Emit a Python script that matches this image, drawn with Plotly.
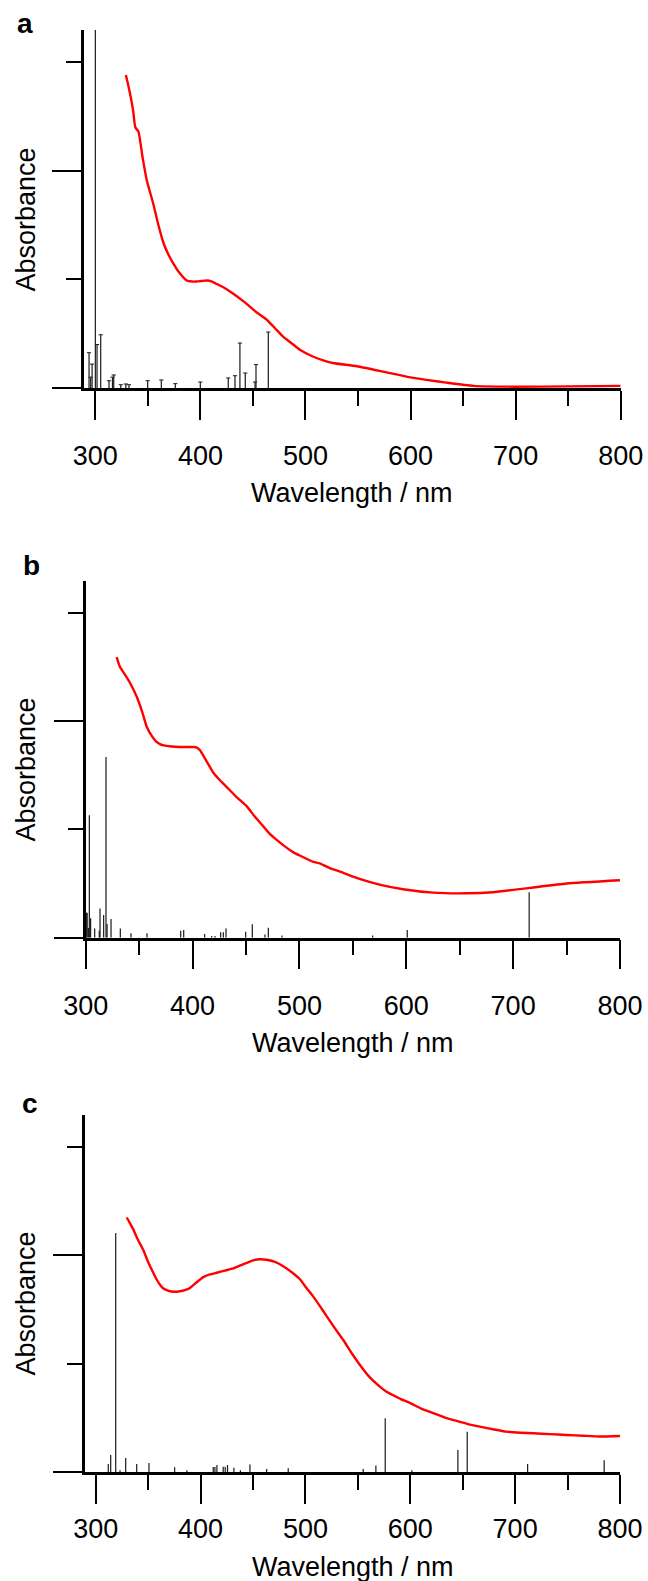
import plotly.graph_objects as go

# ---------------- data ----------------
# panel a
wl_a = [329, 331, 333, 336, 338, 341, 345, 349, 355, 360, 365, 370, 374, 380, 387, 392,
        396, 401, 406, 411, 415, 423, 431, 442, 453, 463, 471, 479, 487, 495, 507, 517,
        526, 549, 574, 596, 615, 634, 660, 698, 750, 800]
abs_a = [2.88, 2.80, 2.71, 2.55, 2.40, 2.36, 2.12, 1.91, 1.70, 1.50, 1.33, 1.22, 1.15,
         1.06, 0.99, 0.98, 0.98, 0.985, 0.99, 0.98, 0.96, 0.92, 0.87, 0.79, 0.70, 0.63,
         0.55, 0.47, 0.41, 0.35, 0.29, 0.255, 0.23, 0.20, 0.15, 0.105, 0.075, 0.05,
         0.02, 0.012, 0.015, 0.02]
stick_wl_a = [294, 295.6, 296.9, 300, 301.6, 305.1, 313, 316.3, 317.5, 324.2, 329, 332,
              349.8, 362.8, 376.1, 399.9, 426.5, 432.9, 437.6, 442.7, 452, 452.9, 464.6]
stick_f_a = [0.325, 0.10, 0.22, 5.0, 0.40, 0.49, 0.067, 0.10, 0.12, 0.03, 0.037, 0.03,
             0.067, 0.074, 0.04, 0.055, 0.092, 0.113, 0.414, 0.138, 0.055, 0.215, 0.515]

# panel b
wl_b = [329, 332, 336, 341, 348, 353, 357, 362, 366, 370, 373, 380, 388, 395, 401, 404,
        407, 413, 419, 425, 432, 441, 451, 458, 466, 472, 479, 486, 494, 500, 513, 519,
        529, 538, 557, 575, 597, 625, 656, 681, 716, 750, 800]
abs_b = [2.59, 2.50, 2.44, 2.36, 2.22, 2.08, 1.95, 1.86, 1.81, 1.785, 1.775, 1.765, 1.76,
         1.76, 1.76, 1.755, 1.73, 1.63, 1.53, 1.46, 1.39, 1.30, 1.21, 1.12, 1.03, 0.96,
         0.90, 0.845, 0.79, 0.76, 0.70, 0.687, 0.64, 0.61, 0.54, 0.49, 0.447, 0.416,
         0.41, 0.42, 0.46, 0.50, 0.53]
stick_wl_b = [300.6, 301.4, 302.5, 303.4, 304.6, 308.4, 312.7, 313.4, 316.8, 319, 320,
              323.7, 332.4, 342.4, 357.4, 388.9, 391.7, 411.3, 417.9, 421, 426.3, 428.8,
              431.3, 449.7, 455.9, 467.8, 470.9, 483.7, 568.5, 600.9, 715]
stick_f_b = [0.23, 0.23, 0.09, 1.13, 0.18, 0.086, 0.065, 0.27, 0.21, 1.668, 0.126, 0.172,
             0.086, 0.04, 0.04, 0.065, 0.07, 0.034, 0.015, 0.015, 0.05, 0.05, 0.086, 0.055,
             0.123, 0.03, 0.092, 0.02, 0.02, 0.07, 0.419]

# panel c
wl_c = [329.6, 332.5, 335.8, 340, 345.4, 350, 354.9, 358, 361.3, 364, 367.7, 374, 380.4,
        385, 389.9, 396, 402.6, 409, 415.4, 423, 431.2, 441, 450.2, 457, 463, 471, 478.8,
        487, 494.8, 501, 507.5, 514, 520.2, 528, 536.1, 544, 552, 561, 571, 577, 583.8,
        591, 599.6, 610, 621.9, 633, 644.2, 655, 666.4, 680, 691.8, 705, 717.2, 733, 749,
        765, 780.8, 800]
abs_c = [2.35, 2.30, 2.24, 2.15, 2.05, 1.94, 1.84, 1.78, 1.73, 1.70, 1.68, 1.665, 1.67,
         1.68, 1.70, 1.75, 1.80, 1.825, 1.84, 1.86, 1.88, 1.92, 1.955, 1.965, 1.96, 1.94,
         1.90, 1.845, 1.78, 1.70, 1.62, 1.53, 1.44, 1.33, 1.22, 1.10, 0.99, 0.88, 0.79,
         0.745, 0.71, 0.675, 0.64, 0.59, 0.545, 0.505, 0.474, 0.445, 0.421, 0.395, 0.375,
         0.365, 0.36, 0.352, 0.344, 0.337, 0.33, 0.335]
stick_wl_c = [312, 314.3, 319.1, 323.2, 328.6, 339.1, 350.8, 375.3, 387, 412.1, 413.7,
              415.6, 421.6, 423.5, 425.7, 431.8, 438, 447.1, 463, 483.6, 555.1, 567.2,
              576.1, 601.5, 645.4, 654.3, 711.9, 784.9]
stick_f_c = [0.077, 0.16, 2.207, 0.02, 0.132, 0.077, 0.086, 0.046, 0.02, 0.05, 0.05,
             0.068, 0.052, 0.052, 0.068, 0.043, 0.02, 0.071, 0.03, 0.037, 0.03, 0.062,
             0.499, 0.02, 0.206, 0.375, 0.077, 0.111]

panel_labels = ["a", "b", "c"]
x_title = "Wavelength / nm"
y_title = "Absorbance"

# ---------------- layout geometry (pixels) ----------------
W, H = 648, 1581
FONT = "Liberation Sans, Arial, Helvetica, sans-serif"

panels = [
    dict(l=84.0, r=620.7, t=30.0, b=388.0, xr=[289.2, 800], so=13, xty=493, yty=220,
         lab=(15, 23.5)),
    dict(l=85.7, r=620.0, t=580.7, b=937.7, xr=[300, 800], so=13, xty=1043, yty=770,
         lab=(20.5, 565)),
    dict(l=85.0, r=620.0, t=1115.0, b=1472.3, xr=[289.8, 800], so=2, xty=1567, yty=1304,
         lab=(19.5, 1103.5)),
]
YMAX = 3.295

data_sets = [
    (wl_a, abs_a, stick_wl_a, stick_f_a),
    (wl_b, abs_b, stick_wl_b, stick_f_b),
    (wl_c, abs_c, stick_wl_c, stick_f_c),
]

fig = go.Figure()
annotations = []
layout_axes = {}

for i, (p, (wl, ab, swl, sf)) in enumerate(zip(panels, data_sets)):
    n = "" if i == 0 else str(i + 1)
    xa, ya = "x" + n, "y" + n
    sx, sy = [], []
    for w_, f_ in zip(swl, sf):
        sx += [w_, w_, None]
        sy += [0, f_, None]
    fig.add_trace(go.Scatter(x=sx, y=sy, mode="lines", xaxis=xa, yaxis=ya,
                             line=dict(color="#1a1a1a", width=1.2),
                             showlegend=False, hoverinfo="skip"))
    if i == 0:
        fig.add_trace(go.Scatter(x=swl, y=sf, mode="markers", xaxis=xa, yaxis=ya,
                                 marker=dict(symbol="line-ew", size=3,
                                             line=dict(color="#1a1a1a", width=1)),
                                 showlegend=False, hoverinfo="skip"))
    fig.add_trace(go.Scatter(x=wl, y=ab, mode="lines", xaxis=xa, yaxis=ya,
                             line=dict(color="#ff0000", width=2.4, shape="spline",
                                       smoothing=0.5),
                             showlegend=False))

    xd = [p["l"] / W, p["r"] / W]
    yd = [1 - p["b"] / H, 1 - p["t"] / H]
    layout_axes["xaxis" + n] = dict(
        domain=xd, range=p["xr"], anchor=ya, showgrid=False, zeroline=False,
        automargin=False,
        showline=True, linecolor="black", linewidth=2.5,
        ticks="outside", ticklen=29, tickwidth=2.2, tickcolor="black",
        tick0=0, dtick=100, ticklabelstandoff=p["so"],
        tickfont=dict(family=FONT, size=27, color="black"),
        minor=dict(ticks="outside", ticklen=15, tickwidth=2.2, tickcolor="black",
                   dtick=50, tick0=0, showgrid=False),
    )
    layout_axes["yaxis" + n] = dict(
        domain=yd, range=[0, YMAX], anchor=xa, showgrid=False, zeroline=False,
        automargin=False,
        showline=True, linecolor="black", linewidth=2.5,
        ticks="outside", ticklen=29, tickwidth=2.2, tickcolor="black",
        tick0=0, dtick=2, showticklabels=False,
        minor=dict(ticks="outside", ticklen=15, tickwidth=2.2, tickcolor="black",
                   dtick=1, tick0=0, showgrid=False),
    )
    annotations.append(dict(text=x_title, xref="paper", yref="paper",
                            x=(p["l"] + p["r"]) / 2 / W, y=1 - p["xty"] / H,
                            xanchor="center", yanchor="middle", showarrow=False,
                            font=dict(family=FONT, size=27, color="black")))
    annotations.append(dict(text=y_title, xref="paper", yref="paper",
                            x=25.5 / W, y=1 - p["yty"] / H, textangle=-90,
                            xanchor="center", yanchor="middle", showarrow=False,
                            font=dict(family=FONT, size=27, color="black")))
    annotations.append(dict(text="<b>" + panel_labels[i] + "</b>", xref="paper",
                            yref="paper", x=p["lab"][0] / W, y=1 - p["lab"][1] / H,
                            xanchor="left", yanchor="middle", showarrow=False,
                            font=dict(family=FONT, size=28, color="black")))

fig.update_layout(
    width=W, height=H, margin=dict(l=0, r=0, t=0, b=0, autoexpand=False),
    paper_bgcolor="white", plot_bgcolor="white",
    annotations=annotations, **layout_axes,
)

fig.write_html("out.html")
